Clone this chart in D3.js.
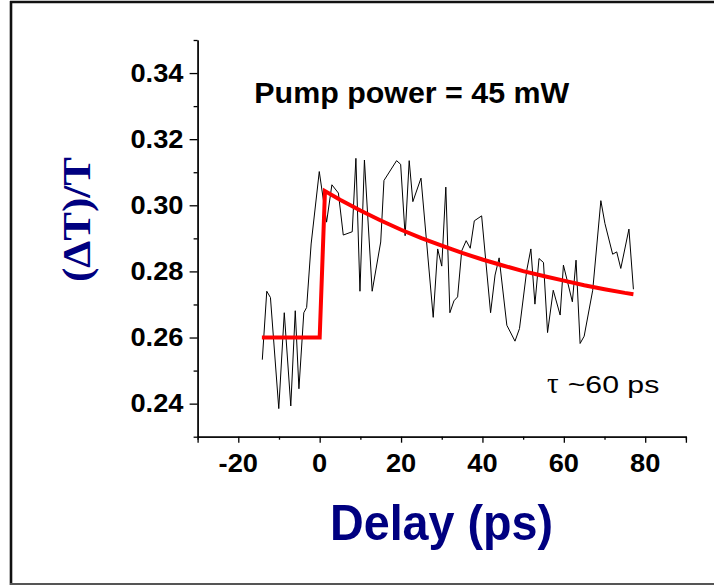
<!DOCTYPE html>
<html>
<head>
<meta charset="utf-8">
<script src="https://cdn.jsdelivr.net/npm/d3@7"></script>
<style>
  body { margin: 0; background: #fff; }
  svg { display: block; }
</style>
</head>
<body>
<svg id="plot" width="714" height="585"></svg>
<script>
const delay = [-14.1, -13, -12.1, -10.05, -8.7, -7.1, -6, -5.1, -3.9, -3.2, -2.1, -0.1, 1.7, 3, 4.6, 5.8,
    8, 8.9, 9.9, 11, 12.9, 15, 15.8, 18.9, 19.9, 21, 22, 22.9, 24.9, 27.9, 29, 30, 31, 32, 33, 33.9,
    34.9, 36, 37, 38, 39.8, 42, 43.1, 44.1, 46, 48, 49.1, 50.9, 51.9, 52.9, 53.9, 55, 56, 57.4, 59.1,
    59.9, 60.8, 62.1, 63, 64, 65, 67.1, 69.1, 70.1, 72, 73, 74, 76, 77.1]
const signal = [0.2533, 0.274, 0.2721, 0.2385, 0.2675, 0.2393, 0.2681, 0.2445, 0.2675, 0.2691, 0.2883,
    0.3102, 0.2949, 0.3062, 0.3037, 0.291, 0.292, 0.3142, 0.274, 0.3137, 0.274, 0.2889, 0.3075, 0.3135,
    0.3124, 0.2908, 0.3135, 0.3011, 0.3082, 0.2661, 0.2868, 0.2816, 0.3055, 0.2675, 0.2711, 0.2723,
    0.2862, 0.2893, 0.287, 0.2953, 0.2968, 0.2675, 0.2789, 0.2841, 0.2637, 0.2589, 0.2627, 0.2804,
    0.2868, 0.2701, 0.2839, 0.2827, 0.2615, 0.2743, 0.2668, 0.2819, 0.2774, 0.2708, 0.2834, 0.2582,
    0.2604, 0.2743, 0.3014, 0.2945, 0.2852, 0.2859, 0.2809, 0.2928, 0.2746]

// red fit curve, read at a few delays
const fit_delay = [-14.2, 0, 1.3, 5, 10, 15, 20, 25, 30, 35, 40, 45, 50, 55, 60, 65, 70, 75, 77.1]
const fit_value = [0.26, 0.26, 0.3043, 0.3017, 0.2984, 0.2954, 0.2926, 0.2901, 0.2878, 0.2856, 0.2836,
    0.2818, 0.2801, 0.2786, 0.2772, 0.2758, 0.2746, 0.2735, 0.2731]

const x_major = [-20, 0, 20, 40, 60, 80]
const x_minor = [-30, -10, 10, 30, 50, 70, 90]
const y_major = [0.24, 0.26, 0.28, 0.30, 0.32, 0.34]
const y_minor = [0.23, 0.25, 0.27, 0.29, 0.31, 0.33, 0.35]

const x_title = 'Delay (ps)'
const y_title = '(\u0394T)/T'
const note = 'Pump power = 45 mW'

let svg = d3.select('#plot')

let x_scale = d3.scaleLinear().domain([-30, 90]).range([197.6, 685.9])
let y_scale = d3.scaleLinear().domain([0.23, 0.35]).range([436.7, 40])

// frame around the picture (right side is cut off)
svg.append('line').attr('x1', 11).attr('x2', 11).attr('y1', 1).attr('y2', 585)
    .attr('stroke', '#111').attr('stroke-width', 2.6)
svg.append('line').attr('x1', 10).attr('x2', 714).attr('y1', 2).attr('y2', 2)
    .attr('stroke', '#111').attr('stroke-width', 2.6)
svg.append('line').attr('x1', 10).attr('x2', 714).attr('y1', 584).attr('y2', 584)
    .attr('stroke', '#555').attr('stroke-width', 2)

function stretch(sel, k) {
    sel.each(function() {
        let len = this.getComputedTextLength()
        d3.select(this).attr('textLength', len * k).attr('lengthAdjust', 'spacingAndGlyphs')
    })
}

// x axis
let gx = svg.append('g').attr('transform', `translate(0, ${y_scale(0.23)})`)
gx.call(d3.axisBottom(x_scale).tickValues(x_major).tickSize(6).tickFormat(''))
let gx2 = svg.append('g').attr('transform', `translate(0, ${y_scale(0.23)})`)
gx2.call(d3.axisBottom(x_scale).tickValues(x_minor).tickSize(3).tickFormat('').tickSizeOuter(0))

// y axis
let gy = svg.append('g').attr('transform', `translate(${x_scale(-30)}, 0)`)
gy.call(d3.axisLeft(y_scale).tickValues(y_major).tickSize(8).tickFormat('').tickSizeOuter(0))
let gy2 = svg.append('g').attr('transform', `translate(${x_scale(-30)}, 0)`)
gy2.call(d3.axisLeft(y_scale).tickValues(y_minor).tickSize(4).tickFormat('').tickSizeOuter(0))

svg.selectAll('.domain').attr('stroke', '#000').attr('stroke-width', 1.3)
svg.selectAll('.tick line').attr('stroke', '#000').attr('stroke-width', 1.3)

// tick labels
svg.append('g').selectAll('text')
    .data(x_major)
    .enter().append('text')
    .attr('x', d => x_scale(d))
    .attr('y', 472)
    .attr('text-anchor', 'middle')
    .style('font', 'bold 25px "Liberation Sans", Arial, sans-serif')
    .text(d => d)
    .call(stretch, 1.09)

svg.append('g').selectAll('text')
    .data(y_major)
    .enter().append('text')
    .attr('x', 183.5)
    .attr('y', d => y_scale(d))
    .attr('dy', '0.35em')
    .attr('text-anchor', 'end')
    .style('font', 'bold 25px "Liberation Sans", Arial, sans-serif')
    .text(d => d3.format('.2f')(d))
    .call(stretch, 1.09)

// data trace
let line = d3.line()
    .x((d, i) => x_scale(delay[i]))
    .y(d => y_scale(d))

svg.append('path')
    .attr('d', line(signal))
    .attr('fill', 'none')
    .attr('stroke', '#000')
    .attr('stroke-width', 1)
    .attr('stroke-linejoin', 'miter')

let fit_line = d3.line()
    .x((d, i) => x_scale(fit_delay[i]))
    .y(d => y_scale(d))

svg.append('path')
    .attr('d', fit_line(fit_value))
    .attr('fill', 'none')
    .attr('stroke', '#ff0000')
    .attr('stroke-width', 4)

// titles
svg.append('text')
    .attr('x', 441.5).attr('y', 540)
    .attr('text-anchor', 'middle')
    .attr('textLength', 223).attr('lengthAdjust', 'spacingAndGlyphs')
    .style('font', 'bold 50px "Liberation Sans", Arial, sans-serif')
    .style('fill', '#000080')
    .text(x_title)

svg.append('text')
    .attr('transform', 'translate(90, 219.5) rotate(-90)')
    .attr('text-anchor', 'middle')
    .attr('textLength', 125).attr('lengthAdjust', 'spacingAndGlyphs')
    .style('font', 'bold 39px "Liberation Serif", "Times New Roman", serif')
    .style('fill', '#000080')
    .text(y_title)

svg.append('text')
    .attr('x', 254.3).attr('y', 102.7)
    .attr('textLength', 315).attr('lengthAdjust', 'spacingAndGlyphs')
    .style('font', 'bold 29px "Liberation Sans", Arial, sans-serif')
    .style('fill', '#000')
    .text(note)

svg.append('text')
    .attr('x', 547).attr('y', 393.3)
    .style('font', '29px "Liberation Serif", "Times New Roman", serif')
    .text('\u03c4')
svg.append('text')
    .attr('x', 567.7).attr('y', 393.3)
    .attr('textLength', 91.6).attr('lengthAdjust', 'spacingAndGlyphs')
    .style('font', '24px "Liberation Sans", Arial, sans-serif')
    .text('~60 ps')
</script>
</body>
</html>
